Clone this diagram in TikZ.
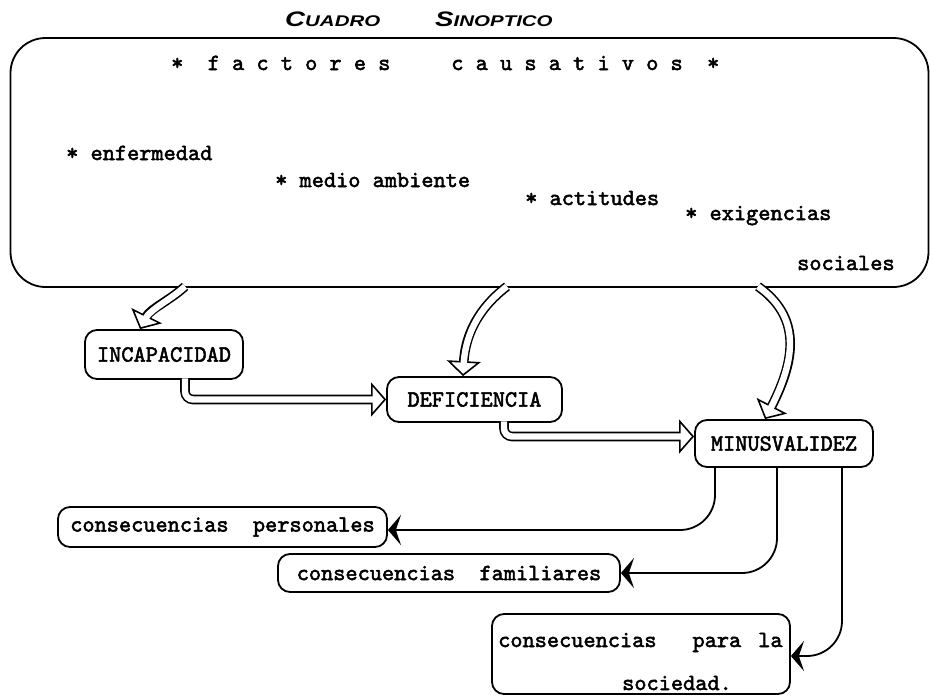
\documentclass[tikz,border=0pt]{standalone}
\usepackage{fontspec}
\usepackage{graphicx}
\usetikzlibrary{arrows.meta,calc}
\newfontfamily\titlef{Liberation Sans}
\newfontfamily\monob{lmmono10-regular.otf}[FakeBold=2.2]
\begin{document}
\begin{tikzpicture}[x=1pt,y=-1pt,
  font=\monob\fontsize{23.2pt}{27pt}\selectfont,
  box/.style={draw, line width=1.8pt, rounded corners=12pt, inner sep=0pt},
  txt/.style={anchor=base west, inner sep=0pt},
  hollow/.style={line width=1.6pt,
     -{Triangle[open, fill=white, length=15pt, width=34pt]},
     preaction={draw, -, line width=9.6pt, shorten >=14pt},
     postaction={draw, -, white, line width=6.4pt, shorten >=11pt}},
  thin/.style={line width=1.8pt, rounded corners=35pt,
     -{Stealth[length=13pt, width=30pt, inset=5pt]}}]
\useasboundingbox (0,0) rectangle (930,696);

% title
\node[txt] (title) at (285,27) {\titlef\bfseries\itshape
  \scalebox{1.32}[1]{{\fontsize{21pt}{21pt}\selectfont C}{\fontsize{15.5pt}{15.5pt}\selectfont UADRO}}\hspace{55pt}%
  \scalebox{1.32}[1]{{\fontsize{21pt}{21pt}\selectfont S}{\fontsize{15.5pt}{15.5pt}\selectfont INOPTICO}}};

% big box
\node[box, rounded corners=35pt, minimum width=918pt, minimum height=249pt] (factors) at (469.5,162.5) {};
\node[txt] (fc) at (171,70) {*~~f~a~c~t~o~r~e~s~~~~~c~a~u~s~a~t~i~v~o~s~~*};
\node[txt] (f1) at (66,160) {*~enfermedad};
\node[txt] (f2) at (275,187) {*~medio~ambiente};
\node[txt] (f3) at (525,205) {*~actitudes};
\node[txt] (f4) at (685,220) {*~exigencias};
\node[txt] (f5) at (797,270) {sociales};

% boxes
\node[box, minimum width=158pt, minimum height=49pt] (incap) at (164,354.5) {INCAPACIDAD};
\node[box, minimum width=175pt, minimum height=45pt] (def) at (474.5,399.5) {DEFICIENCIA};
\node[box, minimum width=178pt, minimum height=47pt] (minus) at (784,443.5) {MINUSVALIDEZ};
\node[box, minimum width=329pt, minimum height=40pt] (pers) at (222.5,527) {consecuencias~~personales};
\node[box, minimum width=342pt, minimum height=38pt] (fam) at (449,573) {consecuencias~~familiares};
\node[box, minimum width=298pt, minimum height=80pt] (soc) at (641,654) {};
\node[txt] (soc1) at (498,647) {consecuencias\hspace{36pt}para\hspace{17pt}la};
\node[txt] (soc2) at (622,690) {sociedad.};

% hollow arrows
\draw[hollow] ($(factors.south -| incap.north)+(21,-1.5)$) .. controls +(-13,12.5) and +(10,-20) .. ([xshift=-24pt]incap.north);
\draw[hollow] ($(factors.south)+(37.5,-1.5)$) .. controls +(-32,24.5) and +(2,-37) .. ([xshift=-11.5pt]def.north);
\draw[hollow] ($(factors.south)+(288.5,-1.5)$) .. controls +(42,30) and +(32,-62) .. ([xshift=-19pt]minus.north);
\draw[hollow, rounded corners=8pt] ($(incap.south)+(21,-1.5)$) |- (def.west);
\draw[hollow, rounded corners=8pt] ($(def.south)+(29.5,-1.5)$) |- ([yshift=7pt]minus.west);

% thin arrows
\draw[thin] ([xshift=-69pt]minus.south) |- ([yshift=-3pt]pers.east);
\draw[thin] ([xshift=-7pt]minus.south) |- (fam.east);
\draw[thin] ([xshift=58pt]minus.south) |- ([yshift=-2pt]soc.east);
\end{tikzpicture}
\end{document}
